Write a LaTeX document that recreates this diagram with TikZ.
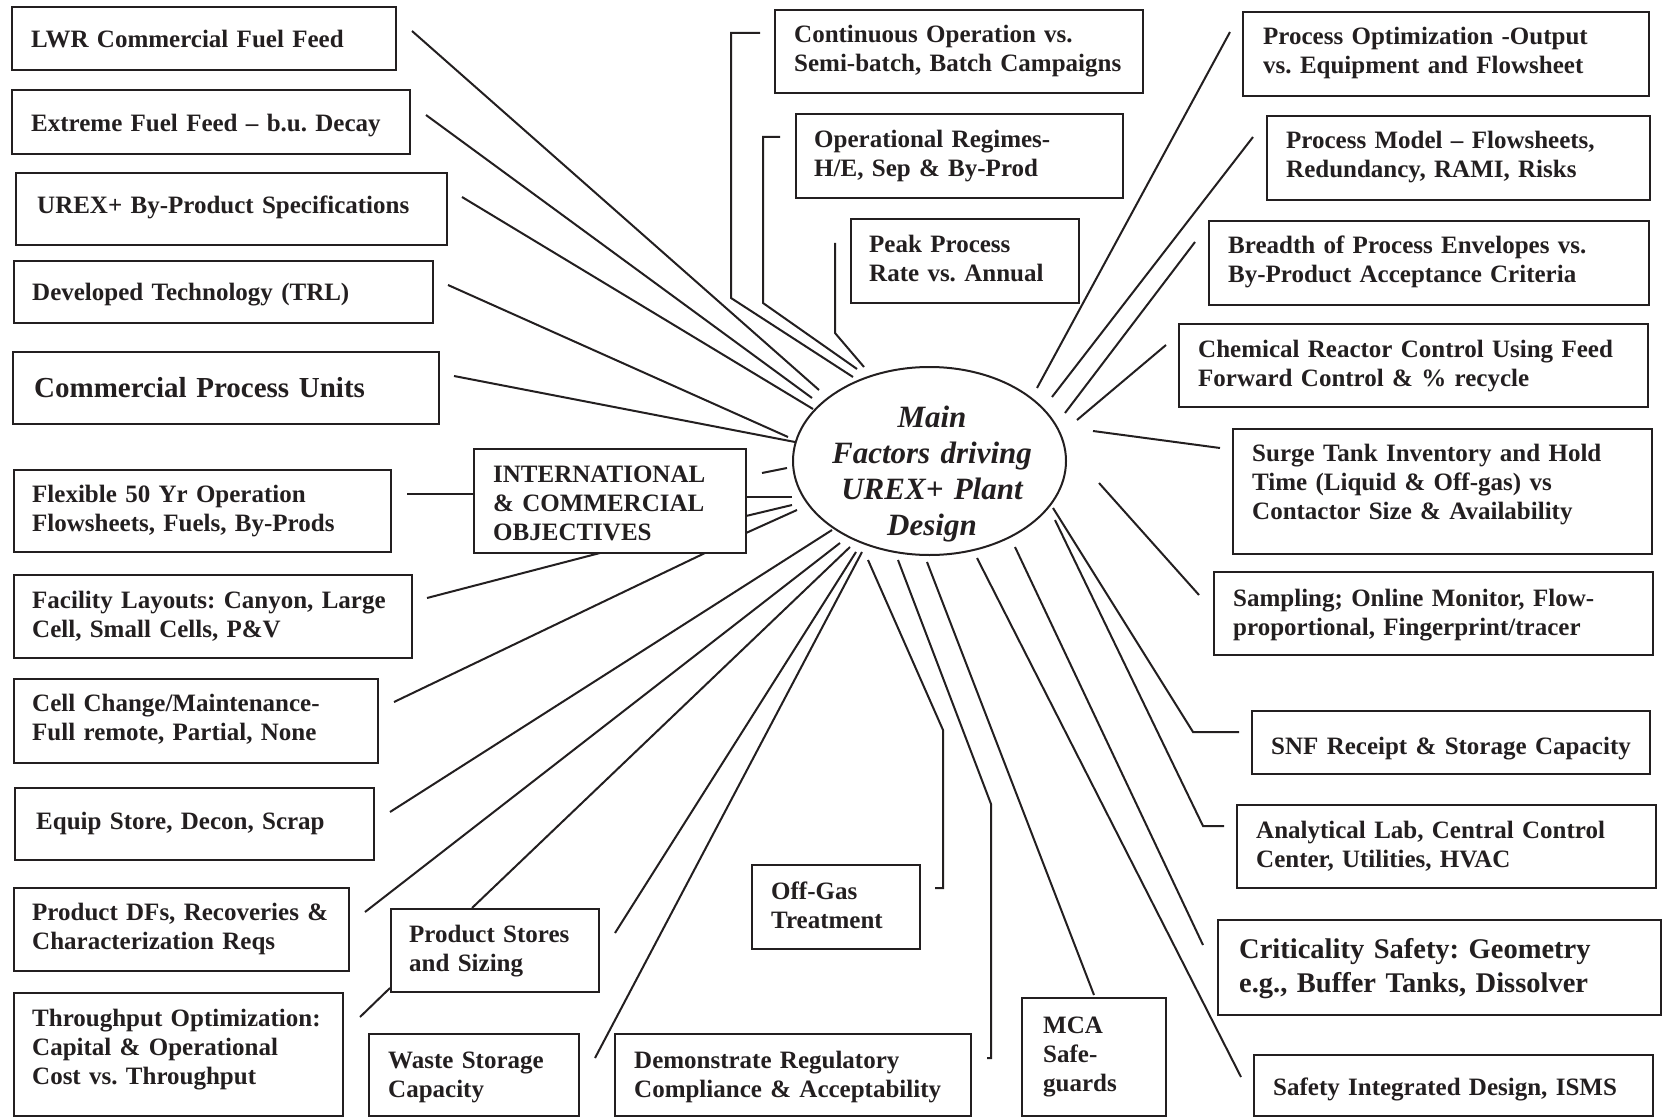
\documentclass[tikz,border=0pt]{standalone}
\usepackage{fontspec}
\setmainfont{Liberation Serif}
\usetikzlibrary{fit,shapes.geometric}

\definecolor{ink}{RGB}{35,31,32}

\tikzset{
  frame/.style={draw=ink, line width=2.4pt, inner sep=0pt},
  txt/.style={text=ink, font=\bfseries\fontsize{25}{29}\selectfont,
    inner sep=0pt, anchor=base west, align=left, text width=440pt},
  bigtxt/.style={txt, font=\bfseries\fontsize{29}{34}\selectfont},
  link/.style={draw=ink, line width=2pt},
  hubtxt/.style={text=ink, font=\bfseries\itshape\fontsize{31}{36}\selectfont,
    inner sep=0pt, anchor=base, align=center, text width=280pt},
}

\begin{document}
\frenchspacing
\begin{tikzpicture}[x=1pt, y=-1pt]
\useasboundingbox (0,0) rectangle (1663,1118);

% ---------- central ellipse ----------
\node[draw=ink, line width=2pt, ellipse, minimum width=273pt, minimum height=188pt, inner sep=0pt] (hub) at (929.5,461) {};
\node[hubtxt] (hubtext) at (932,427) {Main\\Factors driving\\UREX+ Plant\\Design};

% ---------- left column ----------
\node[frame, fit={(12,7) (396,70)}] (lwr) {};
\node[txt] (lwr-t) at (31,48) {LWR Commercial Fuel Feed};

\node[frame, fit={(12,90) (410,154)}] (ext) {};
\node[txt] (ext-t) at (31,132) {Extreme Fuel Feed \textendash{} b.u. Decay};

\node[frame, fit={(16,173) (447,245)}] (urex) {};
\node[txt] (urex-t) at (37,214) {UREX+ By-Product Specifications};

\node[frame, fit={(14,261) (433,323)}] (trl) {};
\node[txt] (trl-t) at (32,301) {Developed Technology (TRL)};

\node[frame, fit={(13,352) (439,424)}] (cpu) {};
\node[bigtxt] (cpu-t) at (34,397) {Commercial Process Units};

\node[frame, fit={(14,470) (391,552)}] (flex) {};
\node[txt] (flex-t) at (32,502) {Flexible 50 Yr Operation\\Flowsheets, Fuels, By-Prods};

\node[frame, fit={(14,575) (412,658)}] (layout) {};
\node[txt] (layout-t) at (32,608) {Facility Layouts: Canyon, Large\\Cell, Small Cells, P\&V};

\node[frame, fit={(14,679) (378,763)}] (cell) {};
\node[txt] (cell-t) at (32,711) {Cell Change/Maintenance-\\Full remote, Partial, None};

\node[frame, fit={(15,788) (374,860)}] (equip) {};
\node[txt] (equip-t) at (36,829) {Equip Store, Decon, Scrap};

\node[frame, fit={(14,888) (349,971)}] (dfs) {};
\node[txt] (dfs-t) at (32,920) {Product DFs, Recoveries \&\\Characterization Reqs};

\node[frame, fit={(14,993) (343,1116)}] (thru) {};
\node[txt] (thru-t) at (32,1026) {Throughput Optimization:\\Capital \& Operational\\Cost vs. Throughput};

% ---------- middle and bottom ----------
\node[frame, fit={(474,449) (746,553)}] (intl) {};
\node[txt] (intl-t) at (493,482) {INTERNATIONAL\\\& COMMERCIAL\\OBJECTIVES};

\node[frame, fit={(391,909) (599,992)}] (pstore) {};
\node[txt] (pstore-t) at (409,942) {Product Stores\\and Sizing};

\node[frame, fit={(369,1034) (579,1116)}] (waste) {};
\node[txt] (waste-t) at (388,1068) {Waste Storage\\Capacity};

\node[frame, fit={(615,1034) (971,1116)}] (reg) {};
\node[txt] (reg-t) at (634,1068) {Demonstrate Regulatory\\Compliance \& Acceptability};

\node[frame, fit={(752,865) (920,949)}] (offgas) {};
\node[txt] (offgas-t) at (771,899) {Off-Gas\\Treatment};

\node[frame, fit={(1022,998) (1166,1116)}] (mca) {};
\node[txt] (mca-t) at (1043,1033) {MCA\\Safe-\\guards};

% ---------- top middle ----------
\node[frame, fit={(775,10) (1143,93)}] (cont) {};
\node[txt] (cont-t) at (794,43) {Continuous Operation vs.\\Semi-batch, Batch Campaigns};

\node[frame, fit={(796,114) (1123,198)}] (regime) {};
\node[txt] (regime-t) at (814,148) {Operational Regimes-\\H/E, Sep \& By-Prod};

\node[frame, fit={(851,219) (1079,303)}] (peak) {};
\node[txt] (peak-t) at (869,252) {Peak Process\\Rate vs. Annual};

% ---------- right column ----------
\node[frame, fit={(1243,12) (1649,96)}] (popt) {};
\node[txt] (popt-t) at (1263,45) {Process Optimization -Output\\vs. Equipment and Flowsheet};

\node[frame, fit={(1267,116) (1650,200)}] (pmodel) {};
\node[txt] (pmodel-t) at (1286,149) {Process Model \textendash{} Flowsheets,\\Redundancy, RAMI, Risks};

\node[frame, fit={(1209,221) (1649,305)}] (breadth) {};
\node[txt] (breadth-t) at (1228,254) {Breadth of Process Envelopes vs.\\By-Product Acceptance Criteria};

\node[frame, fit={(1179,324) (1648,407)}] (chem) {};
\node[txt] (chem-t) at (1198,357) {Chemical Reactor Control Using Feed\\Forward Control \& \% recycle};

\node[frame, fit={(1233,429) (1652,554)}] (surge) {};
\node[txt] (surge-t) at (1252,461) {Surge Tank Inventory and Hold\\Time (Liquid \& Off-gas) vs\\Contactor Size \& Availability};

\node[frame, fit={(1214,572) (1653,655)}] (sampl) {};
\node[txt] (sampl-t) at (1233,606) {Sampling; Online Monitor, Flow-\\proportional, Fingerprint/tracer};

\node[frame, fit={(1252,711) (1650,774)}] (snf) {};
\node[txt] (snf-t) at (1271,754) {SNF Receipt \& Storage Capacity};

\node[frame, fit={(1237,805) (1656,888)}] (lab) {};
\node[txt] (lab-t) at (1256,838) {Analytical Lab, Central Control\\Center, Utilities, HVAC};

\node[frame, fit={(1218,920) (1661,1015)}] (crit) {};
\node[txt, font=\bfseries\fontsize{28.5}{34}\selectfont] (crit-t) at (1239,958) {Criticality Safety: Geometry\\e.g., Buffer Tanks, Dissolver};

\node[frame, fit={(1254,1055) (1653,1116)}] (isms) {};
\node[txt] (isms-t) at (1273,1095) {Safety Integrated Design, ISMS};

% ---------- connector end points ----------
\coordinate (lwr-o) at (412,31);    \coordinate (lwr-i) at (819,390);
\coordinate (ext-o) at (426,115);   \coordinate (ext-i) at (812,398);
\coordinate (urex-o) at (462,197);  \coordinate (urex-i) at (813,409);
\coordinate (trl-o) at (448,285);   \coordinate (trl-i) at (788,437);
\coordinate (cpu-o) at (454,376);   \coordinate (cpu-i) at (795,442);

\coordinate (flex-o) at (407,494);
\coordinate (layout-o) at (427,598); \coordinate (layout-i) at (600,553);
\coordinate (cell-o) at (394,702);   \coordinate (cell-i) at (705,553);
\coordinate (intl-a) at (746,497);   \coordinate (hub-a) at (792,497);
\coordinate (intl-b) at (746,516);   \coordinate (hub-b) at (792,505);
\coordinate (intl-c) at (746,533);   \coordinate (hub-c) at (797,510);
\coordinate (stub-a) at (762,473);   \coordinate (stub-b) at (787,468);

\coordinate (equip-o) at (390,812);  \coordinate (equip-i) at (832,530);
\coordinate (dfs-o) at (365,912);    \coordinate (dfs-i) at (840,543);
\coordinate (pstore-top) at (472,908); \coordinate (pstore-i) at (850,547);
\coordinate (pstore-o) at (615,933); \coordinate (pstore-j) at (856,552);
\coordinate (thru-o) at (360,1017);  \coordinate (pstore-corner) at (390,988);
\coordinate (waste-o) at (595,1058); \coordinate (waste-i) at (862,552);

\coordinate (offgas-o) at (935,888); \coordinate (offgas-k1) at (943,888);
\coordinate (offgas-k2) at (943,730); \coordinate (offgas-i) at (868,560);
\coordinate (reg-o) at (987,1058);   \coordinate (reg-k1) at (991,1058);
\coordinate (reg-k2) at (991,804);   \coordinate (reg-i) at (898,560);
\coordinate (mca-o) at (1094,995);   \coordinate (mca-i) at (927,562);
\coordinate (isms-o) at (1241,1077); \coordinate (isms-i) at (977,558);
\coordinate (crit-o) at (1203,945);  \coordinate (crit-i) at (1015,547);
\coordinate (lab-o) at (1224,826);   \coordinate (lab-k) at (1203,826);
\coordinate (lab-i) at (1055,520);
\coordinate (snf-o) at (1239,732);   \coordinate (snf-k) at (1193,732);
\coordinate (snf-i) at (1053,508);
\coordinate (sampl-o) at (1199,595); \coordinate (sampl-i) at (1099,483);
\coordinate (surge-o) at (1220,448); \coordinate (surge-i) at (1093,431);
\coordinate (chem-o) at (1166,345);  \coordinate (chem-i) at (1077,420);
\coordinate (breadth-o) at (1195,242); \coordinate (breadth-i) at (1065,413);
\coordinate (pmodel-o) at (1253,137); \coordinate (pmodel-i) at (1052,397);
\coordinate (popt-o) at (1230,32);   \coordinate (popt-i) at (1037,388);

\coordinate (cont-o) at (760,33);    \coordinate (cont-k1) at (731,33);
\coordinate (cont-k2) at (731,298);  \coordinate (cont-i) at (853,377);
\coordinate (regime-o) at (780,137); \coordinate (regime-k1) at (763,137);
\coordinate (regime-k2) at (763,303); \coordinate (regime-i) at (857,369);
\coordinate (peak-o) at (835,243);   \coordinate (peak-k) at (835,333);
\coordinate (peak-i) at (864,367);

% ---------- connectors ----------
\draw[link] (lwr-o) -- (lwr-i);
\draw[link] (ext-o) -- (ext-i);
\draw[link] (urex-o) -- (urex-i);
\draw[link] (trl-o) -- (trl-i);
\draw[link] (cpu-o) -- (cpu-i);

\draw[link] (flex-o) -- (intl.west |- flex-o);
\draw[link] (layout-o) -- (layout-i);
\draw[link] (cell-o) -- (cell-i);
\draw[link] (intl-a) -- (hub-a);
\draw[link] (intl-b) -- (hub-b);
\draw[link] (intl-c) -- (hub-c);
\draw[link] (stub-a) -- (stub-b);

\draw[link] (equip-o) -- (equip-i);
\draw[link] (dfs-o) -- (dfs-i);
\draw[link] (pstore-top) -- (pstore-i);
\draw[link] (pstore-o) -- (pstore-j);
\draw[link] (thru-o) -- (pstore-corner);
\draw[link] (waste-o) -- (waste-i);

\draw[link] (offgas-o) -- (offgas-k1) -- (offgas-k2) -- (offgas-i);
\draw[link] (reg-o) -- (reg-k1) -- (reg-k2) -- (reg-i);
\draw[link] (mca-o) -- (mca-i);
\draw[link] (isms-o) -- (isms-i);
\draw[link] (crit-o) -- (crit-i);
\draw[link] (lab-o) -- (lab-k) -- (lab-i);
\draw[link] (snf-o) -- (snf-k) -- (snf-i);
\draw[link] (sampl-o) -- (sampl-i);
\draw[link] (surge-o) -- (surge-i);
\draw[link] (chem-o) -- (chem-i);
\draw[link] (breadth-o) -- (breadth-i);
\draw[link] (pmodel-o) -- (pmodel-i);
\draw[link] (popt-o) -- (popt-i);

\draw[link] (cont-o) -- (cont-k1) -- (cont-k2) -- (cont-i);
\draw[link] (regime-o) -- (regime-k1) -- (regime-k2) -- (regime-i);
\draw[link] (peak-o) -- (peak-k) -- (peak-i);
\end{tikzpicture}
\end{document}
